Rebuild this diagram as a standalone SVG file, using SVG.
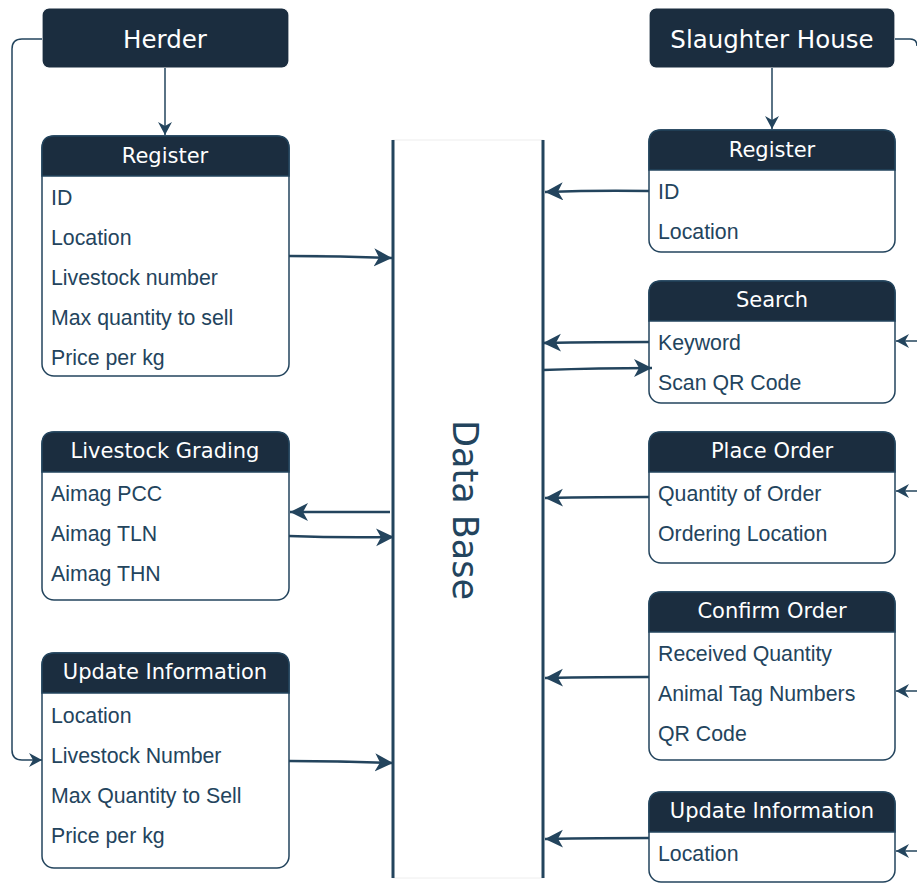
<svg xmlns="http://www.w3.org/2000/svg" width="917" height="884" viewBox="0 0 917 884">
<style>
.hdr{fill:#1b2d3f;stroke:#ffffff;stroke-width:1.2}
.box{fill:#ffffff;stroke:#23445d;stroke-width:1.5}
.htxt{font-family:"DejaVu Sans",sans-serif;font-size:21px;fill:#ffffff;text-anchor:middle;dominant-baseline:central}
.ttxt{font-family:"DejaVu Sans",sans-serif;font-size:24.5px;fill:#ffffff;text-anchor:middle;dominant-baseline:central}
.itm{font-family:"Liberation Sans",Arial,sans-serif;font-size:21.3px;fill:#23445d;dominant-baseline:central}
.db{stroke:#23445d;stroke-width:3;fill:none}
.c{stroke:#23445d;stroke-width:2.5;fill:none;marker-end:url(#big)}
.s{stroke:#23445d;stroke-width:1.5;fill:none;marker-end:url(#small)}
</style>
<defs>
<marker id="big" markerUnits="userSpaceOnUse" markerWidth="20" markerHeight="20" refX="18" refY="9" orient="auto">
<path d="M0,0 L18,9 L0,18 L5,9 z" fill="#23445d"/>
</marker>
<marker id="small" markerUnits="userSpaceOnUse" markerWidth="16" markerHeight="16" refX="13" refY="7" orient="auto">
<path d="M0,0 L13,7 L0,14 L4,7 z" fill="#23445d"/>
</marker>
</defs>
<rect width="917" height="884" fill="#ffffff"/>

<g id="database">
<rect x="393" y="140" width="150" height="738" fill="#ffffff" stroke="#eeeeee" stroke-width="1"/>
<line class="db" x1="393" y1="140" x2="393" y2="878"/>
<line class="db" x1="543" y1="140" x2="543" y2="878"/>
<text x="465" y="510" font-family="DejaVu Sans, sans-serif" font-size="35" fill="#23445d" text-anchor="middle" dominant-baseline="central" transform="rotate(90 465 510)">Data Base</text>
</g>

<g id="herder">
<rect class="hdr" x="42" y="8" width="247" height="60" rx="7"/>
<text class="ttxt" x="165" y="39">Herder</text>
</g>

<g id="slaughter-house">
<rect class="hdr" x="649" y="8" width="246" height="60" rx="7"/>
<text class="ttxt" x="772" y="39">Slaughter House</text>
</g>

<g id="herder-register">
<rect class="box" x="42" y="136" width="247" height="240" rx="12"/>
<path class="hdr" d="M42,176 V148 Q42,136 54,136 H277 Q289,136 289,148 V176 Z" style="stroke:#23445d;stroke-width:1.5"/>
<text class="htxt" x="165" y="156">Register</text>
<text class="itm" x="51" y="198">ID</text>
<text class="itm" x="51" y="238">Location</text>
<text class="itm" x="51" y="278">Livestock number</text>
<text class="itm" x="51" y="318">Max quantity to sell</text>
<text class="itm" x="51" y="358">Price per kg</text>
</g>

<g id="livestock-grading">
<rect class="box" x="42" y="432" width="247" height="168" rx="12"/>
<path class="hdr" d="M42,472 V444 Q42,432 54,432 H277 Q289,432 289,444 V472 Z" style="stroke:#23445d;stroke-width:1.5"/>
<text class="htxt" x="165" y="451">Livestock Grading</text>
<text class="itm" x="51" y="494">Aimag PCC</text>
<text class="itm" x="51" y="534">Aimag TLN</text>
<text class="itm" x="51" y="574">Aimag THN</text>
</g>

<g id="herder-update">
<rect class="box" x="42" y="653" width="247" height="215" rx="12"/>
<path class="hdr" d="M42,693 V665 Q42,653 54,653 H277 Q289,653 289,665 V693 Z" style="stroke:#23445d;stroke-width:1.5"/>
<text class="htxt" x="165" y="672">Update Information</text>
<text class="itm" x="51" y="716">Location</text>
<text class="itm" x="51" y="756">Livestock Number</text>
<text class="itm" x="51" y="796">Max Quantity to Sell</text>
<text class="itm" x="51" y="836">Price per kg</text>
</g>

<g id="sh-register">
<rect class="box" x="649" y="130" width="246" height="122" rx="12"/>
<path class="hdr" d="M649,170 V142 Q649,130 661,130 H883 Q895,130 895,142 V170 Z" style="stroke:#23445d;stroke-width:1.5"/>
<text class="htxt" x="772" y="150">Register</text>
<text class="itm" x="658" y="192">ID</text>
<text class="itm" x="658" y="232">Location</text>
</g>

<g id="search">
<rect class="box" x="649" y="281" width="246" height="122" rx="12"/>
<path class="hdr" d="M649,321 V293 Q649,281 661,281 H883 Q895,281 895,293 V321 Z" style="stroke:#23445d;stroke-width:1.5"/>
<text class="htxt" x="772" y="300">Search</text>
<text class="itm" x="658" y="343">Keyword</text>
<text class="itm" x="658" y="383">Scan QR Code</text>
</g>

<g id="place-order">
<rect class="box" x="649" y="432" width="246" height="131" rx="12"/>
<path class="hdr" d="M649,472 V444 Q649,432 661,432 H883 Q895,432 895,444 V472 Z" style="stroke:#23445d;stroke-width:1.5"/>
<text class="htxt" x="772" y="451">Place Order</text>
<text class="itm" x="658" y="494">Quantity of Order</text>
<text class="itm" x="658" y="534">Ordering Location</text>
</g>

<g id="confirm-order">
<rect class="box" x="649" y="592" width="246" height="168" rx="12"/>
<path class="hdr" d="M649,632 V604 Q649,592 661,592 H883 Q895,592 895,604 V632 Z" style="stroke:#23445d;stroke-width:1.5"/>
<text class="htxt" x="772" y="611">Confirm Order</text>
<text class="itm" x="658" y="654">Received Quantity</text>
<text class="itm" x="658" y="694">Animal Tag Numbers</text>
<text class="itm" x="658" y="734">QR Code</text>
</g>

<g id="sh-update">
<rect class="box" x="649" y="792" width="246" height="90" rx="12"/>
<path class="hdr" d="M649,832 V804 Q649,792 661,792 H883 Q895,792 895,804 V832 Z" style="stroke:#23445d;stroke-width:1.5"/>
<text class="htxt" x="772" y="811">Update Information</text>
<text class="itm" x="658" y="854">Location</text>
</g>

<g id="connectors">
<line class="s" x1="165" y1="68" x2="165" y2="135"/>
<line class="s" x1="772" y1="68" x2="772" y2="129"/>
<path class="s" d="M42,39 H22 Q12,39 12,49 V750 Q12,760 22,760 H42"/>
<path d="M895,39 H910 Q917,39 917,46" stroke="#23445d" stroke-width="1.5" fill="none"/>
<line class="s" x1="917" y1="341" x2="896" y2="341"/>
<line class="s" x1="917" y1="491" x2="896" y2="491"/>
<line class="s" x1="917" y1="691" x2="896" y2="691"/>
<line class="s" x1="917" y1="851" x2="896" y2="851"/>

<path class="c" d="M289,256 Q340,256 392,258"/>
<path class="c" d="M390,512 H290"/>
<path class="c" d="M289,536 Q340,538 394,537"/>
<path class="c" d="M289,761 Q340,761 393,763"/>

<path class="c" d="M649,191 Q600,190 545,192"/>
<path class="c" d="M649,342 Q600,342 543,343"/>
<path class="c" d="M543,370 Q600,368 652,368"/>
<path class="c" d="M649,497 Q600,497 545,498"/>
<path class="c" d="M649,677 Q600,677 545,678"/>
<path class="c" d="M649,838 Q600,838 545,839"/>
</g>
</svg>
